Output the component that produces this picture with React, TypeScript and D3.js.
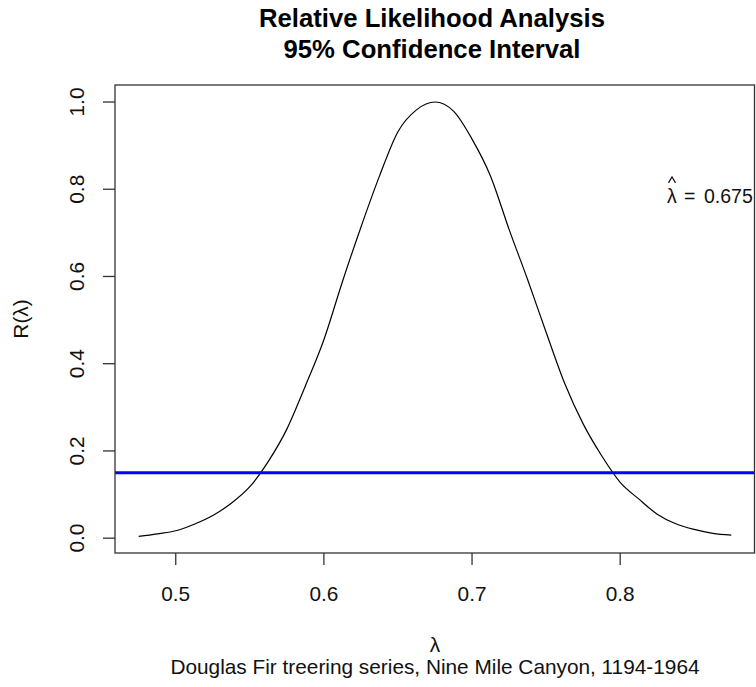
import React from "react";
import * as d3 from "d3";

// Relative likelihood R(λ) evaluated on a grid of λ values
const lambdaValues = [
  0.475, 0.4875, 0.5, 0.5125, 0.525, 0.5375, 0.55, 0.5625, 0.575, 0.5875, 0.6,
  0.6125, 0.625, 0.6375, 0.65, 0.6625, 0.675, 0.6875, 0.7, 0.7125, 0.725,
  0.7375, 0.75, 0.7625, 0.775, 0.7875, 0.8, 0.8125, 0.825, 0.8375, 0.85,
  0.8625, 0.875,
];
const likelihoodValues = [
  0.004, 0.01, 0.017, 0.032, 0.052, 0.08, 0.118, 0.176, 0.25, 0.349, 0.455,
  0.588, 0.713, 0.83, 0.932, 0.982, 1.0, 0.979, 0.915, 0.83, 0.708, 0.593,
  0.472, 0.355, 0.262, 0.189, 0.128, 0.09, 0.055, 0.033, 0.02, 0.011, 0.007,
];
const xTicks = [0.5, 0.6, 0.7, 0.8];
const yTicks = [0.0, 0.2, 0.4, 0.6, 0.8, 1.0];
const cutoff = 0.15;
const lambdaHat = 0.675;

const W = 756;
const H = 687;
const margin = { left: 115, right: 1, top: 85, bottom: 134 };
const FONT = "'Liberation Sans', Arial, Helvetica, sans-serif";
const BASE = 20.8;

export default function App() {
  const x0 = d3.min(lambdaValues) as number;
  const x1 = d3.max(lambdaValues) as number;
  const xPad = (x1 - x0) * 0.04;

  const x = d3
    .scaleLinear()
    .domain([x0 - xPad, x1 + xPad])
    .range([margin.left, W - margin.right]);
  const y = d3
    .scaleLinear()
    .domain([-0.034, 1.039])
    .range([H - margin.bottom, margin.top]);

  const pts = lambdaValues.map((l, i) => [l, likelihoodValues[i]] as [number, number]);
  const line = d3
    .line<[number, number]>()
    .x((d) => x(d[0]))
    .y((d) => y(d[1]))
    .curve(d3.curveMonotoneX);

  const [left, right] = x.range();
  const [bottom, top] = y.range();
  const fmt = d3.format(".1f");

  const annY = y(0.787) + 8;
  const hatX = 672;
  const hatY = annY - 26;

  return (
    <svg
      width={W}
      height={H}
      style={{ position: "absolute", left: 0, top: 0, background: "#fff" }}
      fontFamily={FONT}
    >
      <rect x={0} y={0} width={W} height={H} fill="#fff" />

      {/* Title */}
      <text x={432} y={27} textAnchor="middle" fontSize={25.7} fontWeight="bold" fill="#000">
        Relative Likelihood Analysis
      </text>
      <text x={432} y={58} textAnchor="middle" fontSize={25.7} fontWeight="bold" fill="#000">
        95% Confidence Interval
      </text>

      {/* Curve */}
      <path d={line(pts) ?? ""} fill="none" stroke="#000" strokeWidth={1.2} />

      {/* Cutoff line */}
      <line x1={left} x2={right} y1={y(cutoff)} y2={y(cutoff)} stroke="#0000ff" strokeWidth={3} />

      {/* Plot box */}
      <rect
        x={left}
        y={top}
        width={right - left - 0.5}
        height={bottom - top}
        fill="none"
        stroke="#333"
        strokeWidth={1.3}
      />

      {/* X axis */}
      {xTicks.map((t) => (
        <g key={"x" + t}>
          <line x1={x(t)} x2={x(t)} y1={bottom} y2={bottom + 12} stroke="#333" strokeWidth={1.3} />
          <text x={x(t)} y={601} textAnchor="middle" fontSize={BASE} fill="#111">
            {fmt(t)}
          </text>
        </g>
      ))}

      {/* Y axis */}
      {yTicks.map((t) => (
        <g key={"y" + t}>
          <line x1={left - 12} x2={left} y1={y(t)} y2={y(t)} stroke="#333" strokeWidth={1.3} />
          <text
            transform={`translate(84,${y(t)}) rotate(-90)`}
            textAnchor="middle"
            fontSize={BASE}
            fill="#111"
          >
            {fmt(t)}
          </text>
        </g>
      ))}

      {/* Axis titles */}
      <text x={(left + right) / 2} y={652} textAnchor="middle" fontSize={BASE} fill="#111">
        λ
      </text>
      <text x={(left + right) / 2} y={674} textAnchor="middle" fontSize={BASE} fill="#111">
        Douglas Fir treering series, Nine Mile Canyon, 1194-1964
      </text>
      <text
        transform={`translate(28,${(top + bottom) / 2}) rotate(-90)`}
        textAnchor="middle"
        fontSize={BASE}
        fill="#111"
      >
        R(λ)
      </text>

      {/* Estimate annotation: λ with a hat, = 0.675 */}
      <g fontSize={19.5} fill="#111">
        <text x={667} y={annY}>λ</text>
        <path
          d={`M${hatX - 3.5},${hatY + 6} L${hatX},${hatY} L${hatX + 3.5},${hatY + 6}`}
          fill="none"
          stroke="#111"
          strokeWidth={1.2}
        />
        <text x={684} y={annY}>=</text>
        <text x={704} y={annY}>{String(lambdaHat)}</text>
      </g>
    </svg>
  );
}
